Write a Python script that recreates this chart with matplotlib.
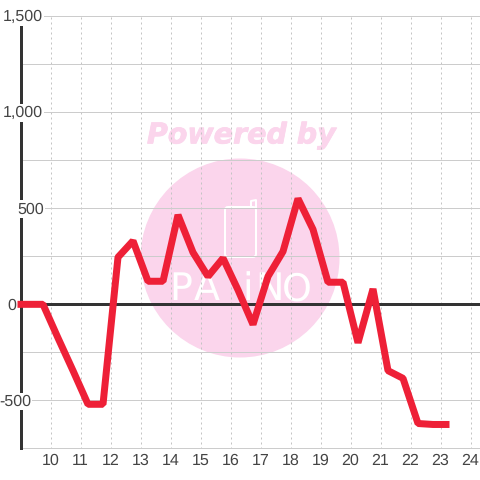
import matplotlib

matplotlib.use("Agg")
import matplotlib.pyplot as plt
import matplotlib.patheffects as pe
from matplotlib.patches import Circle, FancyBboxPatch

hours = [8.9, 9.75, 10.25, 10.75, 11.25, 11.75, 12.25, 12.75, 13.25, 13.75, 14.25, 14.75,
         15.25, 15.75, 16.25, 16.75, 17.25, 17.75, 18.25, 18.75, 19.25, 19.75, 20.25,
         20.75, 21.25, 21.75, 22.25, 22.75, 23.3]
values = [0, 0, -175, -345, -520, -520, 245, 330, 120, 120, 465, 270, 145, 240, 75, -105,
          145, 275, 550, 390, 115, 115, -200, 80, -345, -385, -620, -625, -625]
x_ticks = list(range(10, 25))
y_grid = [-750, -500, -250, 0, 250, 500, 750, 1000, 1250, 1500]
y_labels = [1500, 1000, 500, 0, -500]
y_label_right = [43, 43, 44, 16, 31]
logo_letters = ["P", "A", "i", "N", "O"]
logo_x = [181, 207, 248, 269, 297]

SIZE = 480
plt.rcParams["font.family"] = ["Liberation Sans", "DejaVu Sans"]
plt.rcParams["text.hinting"] = "no_hinting"
plt.rcParams["text.hinting_factor"] = 1

fig = plt.figure(figsize=(SIZE / 72, SIZE / 72), dpi=72)
ax = fig.add_axes([20.5 / SIZE, 1 - 448.5 / SIZE, (SIZE - 20.5) / SIZE, 432.5 / SIZE])
ax.set_xlim(9, 9 + (SIZE - 20.5) / 30)
ax.set_ylim(-750, 1500)
ax.patch.set_alpha(0)

# watermark, placed in figure pixels, sits under the grid
pink = "#fbd5ec"
overlay = fig.add_axes([0, 0, 1, 1], zorder=-1)
overlay.set_xlim(0, SIZE)
overlay.set_ylim(SIZE, 0)
overlay.axis("off")
overlay.add_patch(Circle((240, 258), 99.5, color=pink, lw=0))
overlay.add_patch(FancyBboxPatch((225, 207), 31, 50, boxstyle="round,pad=0,rounding_size=3",
                                 fc="none", ec="white", lw=2))
overlay.plot([251, 251, 256, 256], [207, 201, 200, 207], color="white", lw=2)
for letter, x in zip(logo_letters, logo_x):
    overlay.text(x, 290, letter, color="white", fontsize=38, ha="center", va="center",
                 fontfamily="DejaVu Sans")
powered = overlay.text(243, 135.5, "Powered by", color=pink, fontsize=28.5, ha="center",
                       va="center", fontfamily="DejaVu Sans", fontweight="bold",
                       fontstyle="italic")
powered.set_path_effects([pe.withStroke(linewidth=0.8, foreground=pink)])

ax.set_xticks(x_ticks)
ax.set_yticks(y_grid)
ax.tick_params(length=0, labelleft=False, labelsize=16, labelcolor="#444444", pad=5)
ax.grid(axis="y", color="#cccccc", lw=1)
ax.grid(axis="x", color="#c4c4c4", lw=1, ls=(0, (2, 3)))
ax.set_axisbelow(True)
for side in ["top", "right", "bottom"]:
    ax.spines[side].set_visible(False)
ax.spines["left"].set_color("#333333")
ax.spines["left"].set_linewidth(3)

ax.axhline(0, color="#333333", lw=3, zorder=3)
ax.plot(hours, values, color="#ee2037", lw=7, solid_joinstyle="bevel", solid_capstyle="butt",
        clip_on=False, zorder=4)

for value, right in zip(y_labels, y_label_right):
    ax.annotate(f"{value:,}", xy=(0, value), xycoords=ax.get_yaxis_transform(),
                xytext=(right - 20.5, -1), textcoords="offset points", ha="right", va="center",
                fontsize=16, color="#444444", zorder=3.5, annotation_clip=False,
                bbox=dict(fc="white", ec="none", pad=1.5))

fig.savefig("out.png", dpi=72)
